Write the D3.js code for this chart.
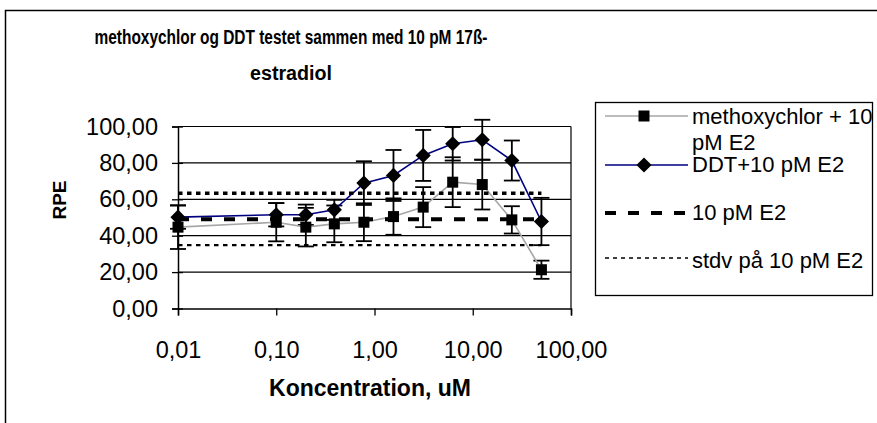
<!DOCTYPE html>
<html>
<head>
<meta charset="utf-8">
<script src="https://cdn.jsdelivr.net/npm/d3@7"></script>
<style>
    body { margin: 0; background: #fff; }
    text { font-family: "Liberation Sans", Arial, sans-serif; }
</style>
</head>
<body>
<div id="chart"></div>
<script>
// concentrations (uM)
const conc = [0.01, 0.1, 0.2, 0.39, 0.78, 1.56, 3.13, 6.25, 12.5, 25, 50];

// methoxychlor + 10 pM E2
const methoxy = [44.7, 47.4, 44.7, 46.5, 47.4, 50.5, 55.7, 69.4, 68.1, 48.7, 21.3];
const methoxyErr = [12, 10.5, 10.6, 10.1, 10.4, 10, 11, 13.7, 13.7, 7.5, 5];

// DDT + 10 pM E2
const ddt = [50.2, 51.5, 51.5, 54.2, 68.9, 73.1, 84.1, 90.5, 92.7, 81.3, 47.8];
const ddtErr = [6.4, 6.4, 5.6, 5.5, 12, 14, 14, 9.2, 11, 11, 13];

// 10 pM E2 reference and its stdv
const e2Mean = 49;
const e2Stdv = [63.3, 34.8];
const refRange = [0.01, 50];

const yTicks = [0, 20, 40, 60, 80, 100];
const xTicks = [0.01, 0.1, 1, 10, 100];
const xTickLabels = ["0,01", "0,10", "1,00", "10,00", "100,00"];

const legendLabels = [["methoxychlor + 10", "pM E2"], ["DDT+10 pM E2"], ["10 pM E2"], ["stdv på 10 pM E2"]];

class RpeChart {
    constructor(config) {
        this.parentElement = config.parentElement;
        this.width = config.width;
        this.height = config.height;
        this.initVis();
    }

    initVis() {
        const vis = this;

        vis.svg = d3.select(vis.parentElement)
            .append("svg")
            .attr("width", vis.width)
            .attr("height", vis.height);

        // outer chart frame
        vis.svg.append("rect")
            .attr("x", 5.5).attr("y", 10.5)
            .attr("width", 900).attr("height", 500)
            .attr("fill", "none")
            .attr("stroke", "#000")
            .attr("stroke-width", 1.5);

        vis.xScale = d3.scaleLog()
            .domain([0.01, 100])
            .range([178, 571]);

        vis.yScale = d3.scaleLinear()
            .domain([0, 100])
            .range([308.5, 126.5]);

        vis.updateVis();
    }

    updateVis() {
        const vis = this;
        const x = vis.xScale, y = vis.yScale;

        // gridlines
        vis.svg.append("g")
            .selectAll("line")
            .data(yTicks.slice(1))
            .join("line")
            .attr("x1", x.range()[0]).attr("x2", x.range()[1])
            .attr("y1", d => y(d)).attr("y2", d => y(d))
            .attr("stroke", "#000")
            .attr("stroke-width", 1.2);

        // right border of plot area
        vis.svg.append("line")
            .attr("x1", x.range()[1]).attr("x2", x.range()[1])
            .attr("y1", y(0)).attr("y2", y(100))
            .attr("stroke", "#000")
            .attr("stroke-width", 1.2);

        // y axis
        const yAxis = d3.axisLeft(y)
            .tickValues(yTicks)
            .tickSize(6)
            .tickFormat(d => d3.format(".2f")(d).replace(".", ","));
        const gy = vis.svg.append("g")
            .attr("transform", `translate(${x.range()[0]},0)`)
            .call(yAxis);
        gy.select(".domain").attr("stroke-width", 1.5);
        gy.selectAll(".tick line").attr("x2", -6).attr("x1", 5).attr("stroke-width", 1.3);
        gy.selectAll(".tick text")
            .attr("x", -20)
            .attr("font-size", 23.5)
            .attr("font-family", "Liberation Sans, Arial, sans-serif")
            .attr("fill", "#000");

        // x axis
        const xAxis = d3.axisBottom(x)
            .tickValues(xTicks)
            .tickSize(7)
            .tickFormat((d, i) => xTickLabels[i]);
        const gx = vis.svg.append("g")
            .attr("transform", `translate(0,${y(0)})`)
            .call(xAxis);
        gx.select(".domain").attr("stroke-width", 1.5);
        gx.selectAll(".tick line").attr("stroke-width", 1.3);
        gx.selectAll(".tick text")
            .attr("y", 33)
            .attr("font-size", 23.5)
            .attr("font-family", "Liberation Sans, Arial, sans-serif")
            .attr("fill", "#000");

        const pts = (vals, errs) => conc.map((c, i) => ({ c: c, v: vals[i], e: errs[i] }));
        const methoxyPts = pts(methoxy, methoxyErr);
        const ddtPts = pts(ddt, ddtErr);

        // error bars
        const drawErr = (data, cls) => {
            const g = vis.svg.append("g").attr("class", cls);
            g.selectAll(".stem").data(data).join("line")
                .attr("x1", d => x(d.c)).attr("x2", d => x(d.c))
                .attr("y1", d => y(d.v - d.e)).attr("y2", d => y(d.v + d.e))
                .attr("stroke", "#000").attr("stroke-width", 1.8);
            [-1, 1].forEach(s => {
                g.selectAll(".cap" + s).data(data).join("line")
                    .attr("x1", d => x(d.c) - 8).attr("x2", d => x(d.c) + 8)
                    .attr("y1", d => y(d.v + s * d.e)).attr("y2", d => y(d.v + s * d.e))
                    .attr("stroke", "#000").attr("stroke-width", 1.8);
            });
        };
        drawErr(methoxyPts, "err-methoxy");
        drawErr(ddtPts, "err-ddt");

        const line = d3.line().x(d => x(d.c)).y(d => y(d.v));

        // methoxychlor series
        vis.svg.append("path")
            .datum(methoxyPts)
            .attr("d", line)
            .attr("fill", "none")
            .attr("stroke", "#a6a6a6")
            .attr("stroke-width", 1.6);

        vis.svg.selectAll(".sq")
            .data(methoxyPts)
            .join("rect")
            .attr("class", "sq")
            .attr("x", d => x(d.c) - 5.5).attr("y", d => y(d.v) - 5.5)
            .attr("width", 11).attr("height", 11)
            .attr("fill", "#000");

        // DDT series
        vis.svg.append("path")
            .datum(ddtPts)
            .attr("d", line)
            .attr("fill", "none")
            .attr("stroke", "#000080")
            .attr("stroke-width", 1.6);

        const diamond = d3.symbol().type(d3.symbolSquare).size(115);
        vis.svg.selectAll(".dm")
            .data(ddtPts)
            .join("path")
            .attr("class", "dm")
            .attr("d", diamond)
            .attr("transform", d => `translate(${x(d.c)},${y(d.v)}) rotate(45)`)
            .attr("fill", "#000");

        // 10 pM E2 mean (dashed) and stdv (dotted)
        vis.svg.append("line")
            .attr("x1", x(refRange[0])).attr("x2", x(refRange[1]))
            .attr("y1", y(e2Mean)).attr("y2", y(e2Mean))
            .attr("stroke", "#000").attr("stroke-width", 4)
            .attr("stroke-dasharray", "11,12");

        vis.svg.selectAll(".stdv")
            .data(e2Stdv)
            .join("line")
            .attr("class", "stdv")
            .attr("x1", x(refRange[0])).attr("x2", x(refRange[1]))
            .attr("y1", d => y(d)).attr("y2", d => y(d))
            .attr("stroke", "#000")
            .attr("stroke-width", (d, i) => i === 0 ? 3.5 : 2.2)
            .attr("stroke-dasharray", "4.5,4.5");

        // titles
        const title = vis.svg.append("text")
            .attr("text-anchor", "middle")
            .attr("font-weight", "bold")
            .attr("font-size", 20);
        title.append("tspan").attr("x", 291).attr("y", 44)
            .attr("textLength", 393).attr("lengthAdjust", "spacingAndGlyphs")
            .text("methoxychlor og DDT testet sammen med 10 pM 17ß-");
        title.append("tspan").attr("x", 291).attr("y", 80)
            .attr("textLength", 82).attr("lengthAdjust", "spacingAndGlyphs")
            .text("estradiol");

        vis.svg.append("text")
            .attr("x", 370).attr("y", 396)
            .attr("text-anchor", "middle")
            .attr("font-weight", "bold")
            .attr("font-size", 23)
            .text("Koncentration, uM");

        vis.svg.append("text")
            .attr("transform", "translate(66,200) rotate(-90)")
            .attr("text-anchor", "middle")
            .attr("font-weight", "bold")
            .attr("font-size", 19)
            .text("RPE");

        // legend
        vis.svg.append("rect")
            .attr("x", 595.5).attr("y", 102.5)
            .attr("width", 277).attr("height", 193)
            .attr("fill", "#fff")
            .attr("stroke", "#000")
            .attr("stroke-width", 1.3);

        const rowY = [116, 165, 213, 258];
        const textY = [124, 172, 220, 268];
        const leg = vis.svg.append("g");

        leg.append("line").attr("x1", 605).attr("x2", 688).attr("y1", rowY[0]).attr("y2", rowY[0])
            .attr("stroke", "#a6a6a6").attr("stroke-width", 1.6);
        leg.append("rect").attr("x", 644 - 5.5).attr("y", rowY[0] - 5.5).attr("width", 11).attr("height", 11).attr("fill", "#000");

        leg.append("line").attr("x1", 605).attr("x2", 688).attr("y1", rowY[1]).attr("y2", rowY[1])
            .attr("stroke", "#000080").attr("stroke-width", 1.6);
        leg.append("path").attr("d", diamond).attr("transform", `translate(644,${rowY[1]}) rotate(45)`).attr("fill", "#000");

        leg.append("line").attr("x1", 605).attr("x2", 688).attr("y1", rowY[2]).attr("y2", rowY[2])
            .attr("stroke", "#000").attr("stroke-width", 4).attr("stroke-dasharray", "11,12");

        leg.append("line").attr("x1", 605).attr("x2", 688).attr("y1", rowY[3]).attr("y2", rowY[3])
            .attr("stroke", "#000").attr("stroke-width", 1.5).attr("stroke-dasharray", "4,4");

        legendLabels.forEach((lines, i) => {
            const t = leg.append("text").attr("font-size", 22).attr("fill", "#000");
            lines.forEach((s, j) => {
                t.append("tspan").attr("x", 692).attr("y", i === 0 ? textY[i] + j * 26 : textY[i]).text(s);
            });
        });
    }
}

new RpeChart({ parentElement: "#chart", width: 877, height: 423 });
</script>
</body>
</html>
